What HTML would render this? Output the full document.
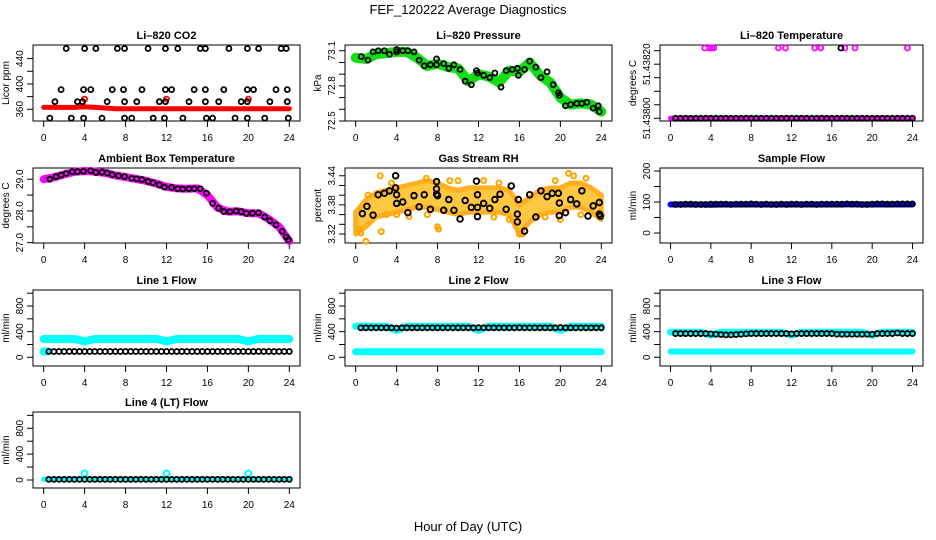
<!DOCTYPE html>
<html><head><meta charset="utf-8"><style>
html,body{margin:0;padding:0;background:#fff;}
svg{display:block;font-family:"Liberation Sans",sans-serif;}
</style></head><body>
<svg id="chart" width="936" height="540" viewBox="0 0 936 540">
<rect x="0" y="0" width="936" height="540" fill="#fff"/>
<text x="468" y="14" text-anchor="middle" font-size="13">FEF_120222  Average Diagnostics</text>
<text x="468" y="531" text-anchor="middle" font-size="13">Hour of Day (UTC)</text>
</svg>
<script>
const hrsBand=[0,1,2,3,4,5,6,7,8,9,10,11,12,13,14,15,16,17,18,19,20,21,22,23,24];
const hrsBlack=[0.5,1,1.5,2,2.5,3,3.5,4,4.5,5,5.5,6,6.5,7,7.5,8,8.5,9,9.5,10,10.5,11,11.5,12,12.5,13,13.5,14,14.5,15,15.5,16,16.5,17,17.5,18,18.5,19,19.5,20,20.5,21,21.5,22,22.5,23,23.5,24];
const xTicks=[0,4,8,12,16,20,24];
const xTickLabels=["0","4","8","12","16","20","24"];

// CO2
const co2BlackX=[2.2,4.0,5.1,7.2,7.9,10.2,11.9,13.1,15.3,15.8,18.1,19.9,21.0,23.2,23.7,1.7,3.9,4.6,6.7,7.8,9.6,11.9,12.5,14.7,15.8,17.6,19.9,20.5,22.7,23.8,1.1,3.3,3.8,6.2,7.9,9.1,11.3,11.9,14.2,15.8,17.1,19.3,19.9,22.1,23.8,0.6,2.7,3.9,5.7,7.9,8.6,10.7,11.8,13.6,15.9,16.5,18.7,19.9,21.6,23.9];
const co2BlackY=[456,456,456,456,456,456,456,456,456,456,456,456,456,456,456,391,391,391,391,391,391,391,391,391,391,391,391,391,391,391,372,372,372,372,372,372,372,372,372,372,372,372,372,372,372,346,346,346,346,346,346,346,346,346,346,346,346,346,346,346];
const co2Red=[363,363,363,363,364,363,362,361,361,361,361,361,361,361,361,361,361,361,361,361,361,361,361,361,361];
const co2RedPtsX=[4,12,20];
const co2RedPtsY=[376,376,376];
const co2Ticks=[360,380,400,420,440];
const co2Labels=["360","","400","","440"];

// Pressure
const presBlackX=[0.55,1.2,1.7,2.2,2.8,3.3,4,4,4.6,5.1,5.7,6.2,6.7,7.3,7.9,7.9,8.6,9.1,9.6,10.2,10.7,11.3,11.8,11.9,12.5,13.1,13.6,14.2,14.7,15.3,15.8,15.9,16.5,17,17.6,18.1,18.7,19.3,19.8,19.9,20.5,21,21.6,22.1,22.6,23.2,23.7,23.8];
const presBlackY=[73.05,73.02,73.09,73.1,73.1,73.07,73.11,73.09,73.1,73.1,73.09,73.02,72.97,72.98,73.03,72.98,72.99,72.95,72.98,72.94,72.84,72.81,72.93,72.91,72.89,72.87,72.91,72.79,72.93,72.94,72.95,72.89,72.94,73.01,72.96,72.87,72.92,72.81,72.74,72.72,72.63,72.64,72.65,72.65,72.66,72.61,72.63,72.58];
const presGreen=[73.04,73.03,73.07,73.08,73.09,73.09,73.04,72.97,72.99,72.96,72.95,72.84,72.9,72.88,72.83,72.93,72.92,73.0,72.89,72.83,72.7,72.64,72.65,72.64,72.58];
const presTicks=[72.5,72.6,72.7,72.8,72.9,73.0,73.1];
const presLabels=["72.5","","","72.8","","","73.1"];

// Li-820 temperature
const tempBand=[51.438,51.438,51.438,51.438,51.438,51.438,51.438,51.438,51.438,51.438,51.438,51.438,51.438,51.438,51.438,51.438,51.438,51.438,51.438,51.438,51.438,51.438,51.438,51.438,51.438];
const tempBlack=[51.438,51.438,51.438,51.438,51.438,51.438,51.438,51.438,51.438,51.438,51.438,51.438,51.438,51.438,51.438,51.438,51.438,51.438,51.438,51.438,51.438,51.438,51.438,51.438,51.438,51.438,51.438,51.438,51.438,51.438,51.438,51.438,51.438,51.438,51.438,51.438,51.438,51.438,51.438,51.438,51.438,51.438,51.438,51.438,51.438,51.438,51.438,51.438];
const tempPinkTopX=[3.4,3.9,4.1,4.3,10.7,11.4,14.3,14.9,17.3,18.3,23.5];
const tempPinkTopY=[51.43826,51.43826,51.43826,51.43826,51.43826,51.43826,51.43826,51.43826,51.43826,51.43826,51.43826];
const tempBlackTopX=[16.9];
const tempBlackTopY=[51.43826];
const tempTicks=[51.438,51.43805,51.4381,51.43815,51.4382,51.43825];
const tempLabels=["51.43800","","","","51.43820",""];

// Ambient box temperature
const ambBlackX=[0.6,1.2,1.7,2.2,2.8,3.3,3.9,4.6,5.1,5.7,6.2,6.7,7.3,7.9,8.6,9.1,9.6,10.2,10.7,11.3,11.8,12.5,13.1,13.6,14.2,14.7,15.3,15.9,16.5,17.1,17.6,18.2,18.8,19.3,19.8,20.4,21.0,21.6,22.1,22.7,23.3,23.7,23.9];
const ambBlackY=[29.0,29.08,29.13,29.18,29.23,29.24,29.25,29.27,29.21,29.22,29.2,29.14,29.11,29.08,29.03,29.01,28.99,28.93,28.89,28.82,28.75,28.74,28.7,28.69,28.7,28.7,28.7,28.56,28.24,28.09,27.98,27.97,28.0,27.98,27.92,27.93,27.94,27.81,27.69,27.56,27.36,27.18,27.09];
const ambPink=[29.0,29.06,29.15,29.23,29.26,29.24,29.2,29.12,29.07,29.01,28.95,28.86,28.76,28.71,28.7,28.71,28.5,28.1,27.98,27.99,27.93,27.93,27.74,27.5,27.05];
const ambTicks=[27.0,27.5,28.0,28.5,29.0];
const ambLabels=["27.0","","28.0","","29.0"];

// Gas stream RH
const rhBlackX=[0.65,1.1,1.7,2.2,2.8,3.3,3.9,3.9,4.0,4.0,4.6,5.1,5.7,6.2,6.7,7.3,7.9,7.9,7.9,8.0,8.6,9.1,9.6,10.2,10.7,11.3,11.8,11.9,11.9,11.9,12.5,13.1,13.6,14.1,14.7,15.2,15.9,15.8,15.8,16.5,17.0,17.6,18.1,18.7,19.2,19.8,19.9,19.9,20.5,21.0,21.6,22.1,22.7,23.2,23.8,23.8,23.9];
const rhBlackY=[3.362,3.377,3.359,3.401,3.404,3.409,3.44,3.415,3.401,3.383,3.386,3.364,3.399,3.376,3.401,3.371,3.428,3.413,3.402,3.399,3.369,3.391,3.369,3.351,3.389,3.375,3.429,3.401,3.375,3.356,3.383,3.373,3.391,3.402,3.371,3.419,3.391,3.361,3.345,3.326,3.401,3.355,3.409,3.397,3.404,3.404,3.384,3.358,3.364,3.391,3.382,3.409,3.357,3.378,3.385,3.361,3.357];
const rhUpper=[3.365,3.39,3.405,3.41,3.415,3.42,3.425,3.43,3.425,3.415,3.41,3.415,3.415,3.415,3.415,3.41,3.38,3.395,3.41,3.415,3.415,3.425,3.425,3.415,3.4];
const rhLower=[3.32,3.335,3.355,3.36,3.365,3.37,3.375,3.375,3.37,3.365,3.36,3.365,3.365,3.365,3.365,3.36,3.32,3.345,3.36,3.365,3.365,3.375,3.375,3.365,3.35];
const rhOrangeX=[0.3,0.5,1.0,1.2,2.4,2.5,3.0,3.5,4.0,5.2,6.9,7.0,8.0,8.1,9.2,10.0,12.5,13.5,14.0,15.0,16.0,16.3,18.5,19.5,20.0,20.8,21.3,22.0,22.5,24.0];
const rhOrangeY=[3.33,3.322,3.305,3.40,3.44,3.325,3.36,3.425,3.36,3.356,3.435,3.36,3.335,3.33,3.43,3.43,3.43,3.355,3.425,3.35,3.32,3.32,3.355,3.43,3.35,3.445,3.44,3.36,3.435,3.36];
const rhTicks=[3.32,3.34,3.36,3.38,3.40,3.42,3.44];
const rhLabels=["3.32","","","3.38","","","3.44"];

// Sample flow
const sampBlue=[92,92,92,92,91,92,92,92,92,92,92,92,92,92,92,92,92,92,93,92,92,92,92,92,92];
const sampBlack=[92,92,93,93,92,92,92,93,93,93,93,92,93,93,93,94,93,92,93,92,92,93,92,93,93,92,93,93,92,93,93,93,93,93,94,93,93,92,92,93,94,94,93,93,94,94,94,94];
const sampTicks=[0,50,100,150,200];
const sampLabels=["0","","100","","200"];

// Flow panels
const flowTicks=[0,200,400,600,800,1000];
const flowLabels=["0","","400","","800",""];
const l1Cyan=[285,285,285,285,250,285,285,285,285,285,285,285,250,285,285,285,285,285,285,285,250,285,285,285,285];
const l1CyanLowX=[0,0.15,0.3];
const l1CyanLowY=[90,90,90];
const l1Black=[90,90,90,90,90,90,90,90,90,90,90,90,90,90,90,90,90,90,90,90,90,90,90,90,90,90,90,90,90,90,90,90,90,90,90,90,90,90,90,90,90,90,90,90,90,90,90,90];
const l2Cyan=[485,485,485,485,420,485,485,485,485,485,485,485,420,485,485,485,485,485,485,485,420,485,485,485,485];
const l2CyanLow=[85,85,85,85,85,85,85,85,85,85,85,85,85,85,85,85,85,85,85,85,85,85,85,85,85];
const l2Black=[460,460,460,460,460,460,460,455,460,460,460,460,460,460,460,460,460,460,460,460,460,460,460,462,460,460,460,460,460,460,460,462,460,460,460,460,460,460,460,465,460,460,460,460,460,460,460,460];
const l3Cyan=[392,392,392,392,345,392,392,392,392,392,392,392,345,392,392,392,392,392,392,392,345,392,392,392,392];
const l3CyanLow=[90,90,90,90,90,90,90,90,90,90,90,90,90,90,90,90,90,90,90,90,90,90,90,90,90];
const l3Black=[370,370,370,370,370,370,370,365,360,355,350,350,355,360,365,370,370,370,370,370,370,370,370,365,370,370,370,370,370,370,370,370,360,360,360,360,360,360,360,360,370,370,370,370,380,370,370,370];
const l4Cyan=[10,10,10,10,10,10,10,10,10,10,10,10,10,10,10,10,10,10,10,10,10,10,10,10,10];
const l4CyanSpikeX=[4,12,20];
const l4CyanSpikeY=[100,100,100];
const l4Black=[10,10,10,10,10,10,10,10,10,10,10,10,10,10,10,10,10,10,10,10,10,10,10,10,10,10,10,10,10,10,10,10,10,10,10,10,10,10,10,10,10,10,10,10,10,10,10,10];

const NS="http://www.w3.org/2000/svg";
const svg=document.getElementById('chart');
function mk(tag,attrs,parent){const e=document.createElementNS(NS,tag);for(const k in attrs)e.setAttribute(k,attrs[k]);(parent||svg).appendChild(e);return e;}

function panel(name,title,ytitle,L,T,R,B,ylo,yhi,yt,yl,tx,tl){
  const g=mk('g',{});
  
  
  const sx=v=>L+(R-L)*(0.04+0.92*v/24);
  const sy=v=>B-(B-T)*(v-ylo)/(yhi-ylo);
  const box=mk('rect',{x:L,y:T,width:R-L,height:B-T,fill:'none',stroke:'#000','stroke-width':1},g);
  
  
  const tt=mk('text',{x:(L+R)/2,y:T-6,'text-anchor':'middle','font-size':11,'font-weight':'bold'},g);
  tt.textContent=title;
  
  
  const ytl=mk('text',{transform:`translate(${L-24},${(T+B)/2}) rotate(-90)`,'text-anchor':'middle','font-size':10},g);
  ytl.textContent=ytitle;
  
  
  const xa=mk('g',{},g);
  
  
  mk('line',{x1:sx(tx[0]),x2:sx(tx[tx.length-1]),y1:B,y2:B,stroke:'#000'},xa);
  tx.forEach((v,i)=>{
    mk('line',{x1:sx(v),x2:sx(v),y1:B,y2:B+6,stroke:'#000'},xa);
    const t=mk('text',{x:sx(v),y:B+20,'text-anchor':'middle','font-size':10},xa);
    t.textContent=tl[i];
    
    
  });
  const ya=mk('g',{},g);
  
  
  yt.forEach((v,i)=>{
    if(sy(v)<T-0.5||sy(v)>B+0.5)return;
    mk('line',{x1:L-6,x2:L,y1:sy(v),y2:sy(v),stroke:'#000'},ya);
    if(yl[i]){
      const t=mk('text',{transform:`translate(${L-10},${sy(v)}) rotate(-90)`,'text-anchor':'middle','font-size':10},ya);
      t.textContent=yl[i];
      
      
    }
  });
  const clip=mk('g',{},g);
  
  
  return {g:clip,sx,sy};
}
function band(p,xs,ys,color,w,name){
  const pts=xs.map((x,i)=>p.sx(x).toFixed(1)+','+p.sy(ys[i]).toFixed(1)).join(' ');
  const e=mk('polyline',{points:pts,fill:'none',stroke:color,'stroke-width':w,'stroke-linejoin':'round','stroke-linecap':'round'},p.g);
  
  
}
function pts(p,xs,ys,color,r,name,sw){
  const gg=mk('g',{},p.g);
  
  
  xs.forEach((x,i)=>{
    const c=mk('circle',{cx:p.sx(x),cy:p.sy(ys[i]),r:r,fill:'none',stroke:color,'stroke-width':sw||1.8},gg);
    
    
  });
}
function area(p,xs,up,lo,color,name){
  const a=xs.map((x,i)=>p.sx(x).toFixed(1)+','+p.sy(up[i]).toFixed(1));
  const b=xs.map((x,i)=>p.sx(x).toFixed(1)+','+p.sy(lo[i]).toFixed(1)).reverse();
  const e=mk('polygon',{points:a.concat(b).join(' '),fill:color,stroke:'#ffb020','stroke-width':5,'stroke-linejoin':'round'},p.g);
  
  
}

const C1=[33,300],C2=[345,612],C3=[660,923];
const R1=[45,121],R2=[168,243],R3=[290,366],R4=[412,488];

let p=panel('co2','Li\u2013820 CO2','Licor ppm',C1[0],R1[0],C1[1],R1[1],341.5,461.5,co2Ticks,co2Labels,xTicks,xTickLabels);
band(p,hrsBand,co2Red,'#ff0000',5,'co2-red-band');
pts(p,co2RedPtsX,co2RedPtsY,'#ff0000',2.5,'co2-red-points');
pts(p,co2BlackX,co2BlackY,'#000',2.5,'co2-black-points');

p=panel('pressure','Li\u2013820 Pressure','kPa',C2[0],R1[0],C2[1],R1[1],72.5,73.149,presTicks,presLabels,xTicks,xTickLabels);
band(p,hrsBand,presGreen,'#10e010',10,'pressure-green-band');
pts(p,presBlackX,presBlackY,'#000',2.5,'pressure-black-points');

p=panel('li820-temp','Li\u2013820 Temperature','degrees C',C3[0],R1[0],C3[1],R1[1],51.43799,51.438271,tempTicks,tempLabels,xTicks,xTickLabels);
band(p,hrsBand,tempBand,'#ff00ff',5,'temp-pink-band');
pts(p,hrsBlack,tempBlack,'#000',2.5,'temp-black-points');
pts(p,tempPinkTopX,tempPinkTopY,'#ff00ff',2.5,'temp-pink-points');
pts(p,tempBlackTopX,tempBlackTopY,'#000',2.5,'temp-black-top-points');

p=panel('ambient','Ambient Box Temperature','degrees C',C1[0],R2[0],C1[1],R2[1],26.99,29.353,ambTicks,ambLabels,xTicks,xTickLabels);
band(p,hrsBand,ambPink,'#ff00ff',8,'ambient-pink-band');
pts(p,ambBlackX,ambBlackY,'#000',2.5,'ambient-black-points');

p=panel('rh','Gas Stream RH','percent',C2[0],R2[0],C2[1],R2[1],3.3015,3.456,rhTicks,rhLabels,xTicks,xTickLabels);
area(p,hrsBand,rhUpper,rhLower,'#ffc840','rh-orange-band');
pts(p,rhOrangeX,rhOrangeY,'#ffa500',2.5,'rh-orange-points',2);
pts(p,rhBlackX,rhBlackY,'#000',2.8,'rh-black-points',1.9);

p=panel('sample-flow','Sample Flow','ml/min',C3[0],R2[0],C3[1],R2[1],-32.3,209.7,sampTicks,sampLabels,xTicks,xTickLabels);
band(p,hrsBand,sampBlue,'#0000ff',6,'sample-blue-band');
pts(p,hrsBlack,sampBlack,'#000',2.5,'sample-black-points');

p=panel('line1','Line 1 Flow','ml/min',C1[0],R3[0],C1[1],R3[1],-136,1050,flowTicks,flowLabels,xTicks,xTickLabels);
band(p,hrsBand,l1Cyan,'#00ffff',8,'line1-cyan-band');
pts(p,l1CyanLowX,l1CyanLowY,'#00ffff',3,'line1-cyan-low-points',2);
pts(p,hrsBlack,l1Black,'#000',2.5,'line1-black-points');

p=panel('line2','Line 2 Flow','ml/min',C2[0],R3[0],C2[1],R3[1],-136,1050,flowTicks,flowLabels,xTicks,xTickLabels);
band(p,hrsBand,l2Cyan,'#00ffff',7,'line2-cyan-band');
band(p,hrsBand,l2CyanLow,'#00ffff',7,'line2-cyan-low-band');
pts(p,hrsBlack,l2Black,'#000',2.5,'line2-black-points');

p=panel('line3','Line 3 Flow','ml/min',C3[0],R3[0],C3[1],R3[1],-136,1050,flowTicks,flowLabels,xTicks,xTickLabels);
band(p,hrsBand,l3Cyan,'#00ffff',7,'line3-cyan-band');
band(p,hrsBand,l3CyanLow,'#00ffff',6,'line3-cyan-low-band');
pts(p,hrsBlack,l3Black,'#000',2.5,'line3-black-points');

p=panel('line4','Line 4 (LT) Flow','ml/min',C1[0],R4[0],C1[1],R4[1],-124,1052,flowTicks,flowLabels,xTicks,xTickLabels);
band(p,hrsBand,l4Cyan,'#00ffff',5,'line4-cyan-band');
pts(p,l4CyanSpikeX,l4CyanSpikeY,'#00ffff',3,'line4-cyan-spike-points',2);
pts(p,hrsBlack,l4Black,'#000',2.5,'line4-black-points');
</script>
</body></html>
